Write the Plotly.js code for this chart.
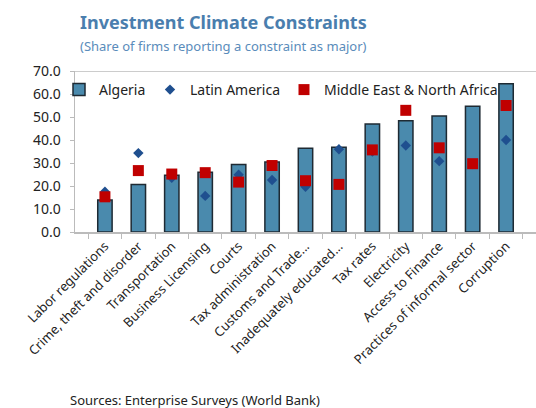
<!DOCTYPE html>
<html>
<head>
<meta charset="utf-8">
<script src="https://cdn.plot.ly/plotly-3.0.1.min.js"></script>
<style>html,body{margin:0;padding:0;background:#fff;}#chart{width:536px;height:408px;}</style>
</head>
<body>
<div id="chart"></div>
<script>
var categories = ["Labor regulations","Crime, theft and disorder","Transportation","Business Licensing","Courts","Tax administration","Customs and Trade...","Inadequately educated...","Tax rates","Electricity","Access to Finance","Practices of informal sector","Corruption"];
var algeria = [13.9, 20.6, 24.7, 26.0, 29.3, 30.4, 36.4, 36.9, 47.0, 48.4, 50.4, 54.7, 64.5];
var latinAmerica = [17.5, 34.3, 23.6, 15.7, 24.9, 22.6, 19.7, 36.0, 35.0, 37.6, 30.8, 29.5, 40.0];
var mena = [15.3, 26.7, 25.2, 25.8, 21.7, 28.9, 22.3, 20.7, 35.7, 52.9, 36.6, 29.7, 55.0];
var yTicks = [0, 10, 20, 30, 40, 50, 60, 70];

var font = "Noto Sans, Open Sans, sans-serif";
var plotW = 536-75, plotH = 408-71-176;
function px(x){return (x-75)/plotW;}
function py(y){return (408-176-y)/plotH;}

var traces = [
  {type:"bar", name:"Algeria", x:categories, y:algeria, legend:"legend",
   marker:{color:"#4a8aad", line:{color:"#1e2a33", width:1.5}}},
  {type:"scatter", mode:"markers", name:"Latin America", x:categories, y:latinAmerica, legend:"legend2",
   marker:{symbol:"diamond", size:8, color:"#1f4f8f"}},
  {type:"scatter", mode:"markers", name:"Middle East & North Africa", x:categories, y:mena, legend:"legend3",
   marker:{symbol:"square", size:11, color:"#c00000"}}
];
function leg(xpx){
  return {orientation:"h", x:px(xpx), y:py(90), xanchor:"left", yanchor:"middle",
          font:{size:14, color:"#222", family:font}, bgcolor:"rgba(0,0,0,0)", itemwidth:30};
}
var layout = {
  width:536, height:408,
  margin:{l:75, r:0, t:71, b:176},
  paper_bgcolor:"#fff", plot_bgcolor:"#fff",
  font:{family:font, size:13, color:"#222"},
  bargap:0.57,
  showlegend:true,
  legend:leg(59), legend2:leg(150), legend3:leg(284),
  xaxis:{type:"category", tickangle:-45, showline:true, linecolor:"#bbb", linewidth:1.5,
         ticks:"outside", tickson:"boundaries", ticklen:5, tickcolor:"#bbb",
         tickfont:{size:13, color:"#222"}, showgrid:false, fixedrange:true},
  yaxis:{range:[0,70], tickvals:yTicks, ticktext:yTicks.map(function(v){return v.toFixed(1);}),
         showline:true, linecolor:"#bbb", linewidth:1.5, ticks:"outside", ticklen:4, tickcolor:"#bbb",
         ticklabelstandoff:6,
         showgrid:false, zeroline:false, tickfont:{size:14, color:"#222"}},
  shapes:[{type:"line", xref:"paper", yref:"y", x0:0, x1:1, y0:70, y1:70, line:{color:"#bbb", width:1.5}}],
  annotations:[
    {text:"<b>Investment Climate Constraints</b>", xref:"paper", yref:"paper", x:px(78), y:py(22),
     xanchor:"left", yanchor:"middle", font:{size:18, color:"#4a7eae", family:font}, showarrow:false},
    {text:"(Share of firms reporting a constraint as major)", xref:"paper", yref:"paper", x:px(78), y:py(46),
     xanchor:"left", yanchor:"middle", font:{size:13, color:"#5a8cbb", family:font}, showarrow:false},
    {text:"Sources: Enterprise Surveys (World Bank)", xref:"paper", yref:"paper", x:px(68), y:py(400),
     xanchor:"left", yanchor:"middle", font:{size:13, color:"#222", family:font}, showarrow:false}
  ]
};
Plotly.newPlot("chart", traces, layout, {displayModeBar:false, staticPlot:true});
</script>
</body>
</html>
